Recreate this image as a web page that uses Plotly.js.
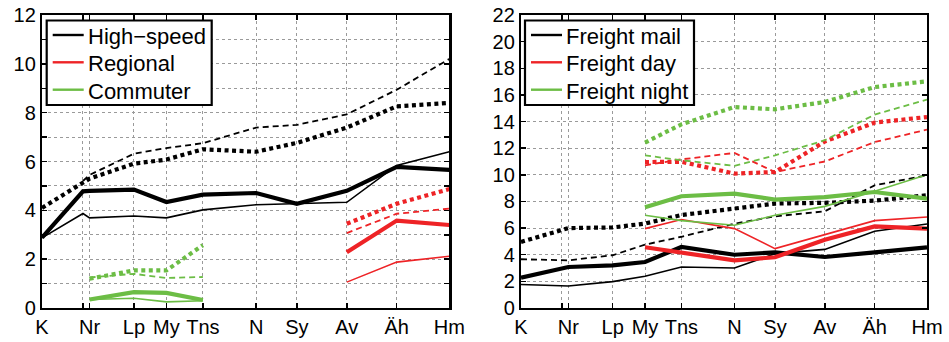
<!DOCTYPE html>
<html>
<head>
<meta charset="utf-8">
<script src="https://cdn.plot.ly/plotly-3.0.1.min.js"></script>
<style>html,body{margin:0;padding:0;background:#fff;}#chart{width:949px;height:342px;}</style>
</head>
<body>
<div id="chart"></div>
<script>
// Stations along the line (x position, label)
const stationLabels = ["K", "", "Nr", "Lp", "My", "Tns", "N", "Sy", "Av", "Äh", "Hm"];
const stationPos    = [0, 41, 47.6, 92, 124.5, 161, 214.3, 255, 305, 355, 407.6];

// Left panel: passenger trains (values per station, null = no data)
const highSpeedThin   = [2.87, 3.87, 3.69, 3.77, 3.69, 4.02, 4.23, 4.27, 4.33, 5.84, 6.4];
const highSpeedThick  = [2.88, 4.78, 4.8, 4.85, 4.34, 4.64, 4.71, 4.27, 4.8, 5.78, 5.66];
const highSpeedDash   = [null, 5.2, 5.45, 6.32, 6.55, 6.75, 7.39, 7.5, 7.93, 8.94, 10.2];
const highSpeedDot    = [4.1, 5.16, 5.3, 5.91, 6.08, 6.5, 6.4, 6.76, 7.39, 8.26, 8.4];

const regionalThin    = [null, null, null, null, null, null, null, null, 1.06, 1.88, 2.12];
const regionalThick   = [null, null, null, null, null, null, null, null, 2.28, 3.58, 3.4];
const regionalDash    = [null, null, null, null, null, null, null, null, 3.07, 3.86, 4.07];
const regionalDot     = [null, null, null, null, null, null, null, null, 3.45, 4.27, 4.87];

const commuterThin    = [null, null, 0.35, 0.4, 0.25, 0.3, null, null, null, null, null];
const commuterThick   = [null, null, 0.35, 0.65, 0.62, 0.33, null, null, null, null, null];
const commuterDash    = [null, null, 1.25, 1.4, 1.23, 1.27, null, null, null, null, null];
const commuterDot     = [null, null, 1.2, 1.54, 1.54, 2.57, null, null, null, null, null];

// Right panel: freight trains
const mailThin        = [1.76, 1.68, 1.65, 1.98, 2.38, 3.08, 3.0, 4.08, 4.4, 5.76, 6.31];
const mailThick       = [2.28, 3.03, 3.08, 3.2, 3.45, 4.58, 4.0, 4.18, 3.83, 4.18, 4.56];
const mailDash        = [3.66, 3.6, 3.58, 3.96, 4.76, 5.35, 6.33, 6.88, 7.26, 9.21, 9.96];
const mailDot         = [4.96, 5.83, 6.0, 6.05, 6.34, 6.98, 7.46, 7.84, 7.9, 8.06, 8.46];

const dayThin         = [null, null, null, null, 5.96, 6.64, 5.96, 4.46, 5.51, 6.56, 6.83];
const dayThick        = [null, null, null, null, 4.56, 4.13, 3.58, 3.81, 5.13, 6.13, 5.96];
const dayDash         = [null, null, null, null, 10.71, 11.16, 11.64, 10.21, 11.0, 12.46, 13.39];
const dayDot          = [null, null, null, null, 10.96, 10.98, 10.09, 10.21, 12.5, 13.92, 14.34];

const nightThin       = [null, null, null, null, 6.96, 6.56, 6.21, 6.96, 7.63, 8.76, 10.01];
const nightThick      = [null, null, null, null, 7.56, 8.39, 8.59, 8.14, 8.33, 8.71, 8.21];
const nightDash       = [null, null, null, null, 11.46, 11.09, 10.68, 11.46, 12.6, 14.52, 15.65];
const nightDot        = [null, null, null, null, 12.42, 13.79, 15.09, 14.92, 15.47, 16.59, 17.02];

const leftTickVals  = [0,1,2,3,4,5,6,7,8,9,10,11,12];
const leftTickText  = ["0","","2","","4","","6","","8","","10","","12"];
const rightTickVals = [0,2,4,6,8,10,12,14,16,18,20,22];

const leftLegendNames  = ["High\u2212speed", "Regional", "Commuter"];
const rightLegendNames = ["Freight mail", "Freight day", "Freight night"];

const BLACK = "#000000", RED = "#ee2326", GREEN = "#6cbd45";
const COLORS = [BLACK, RED, GREEN];
const FONT = "Liberation Sans, Arial, Helvetica, sans-serif";

const styles = {
  thin:  {width: 1.6, dash: "solid"},
  thick: {width: 4.2, dash: "solid"},
  dash:  {width: 1.8, dash: "6px,4px"},
  dot:   {width: 4.2, dash: "4px,3.5px"}
};

const traces = [];
function addGroup(name, color, series, xa, ya) {
  for (const [kind, vals] of series) {
    const xs = [], ys = [];
    vals.forEach((v, i) => { if (v !== null) { xs.push(stationPos[i]); ys.push(v); } });
    traces.push({
      x: xs, y: ys, xaxis: xa, yaxis: ya, mode: "lines", type: "scatter", name: name,
      line: {color: color, width: styles[kind].width, dash: styles[kind].dash},
      showlegend: false, hoverinfo: "skip"
    });
  }
}

addGroup(leftLegendNames[0], BLACK, [["thin", highSpeedThin], ["thick", highSpeedThick], ["dash", highSpeedDash], ["dot", highSpeedDot]], "x", "y");
addGroup(leftLegendNames[1], RED, [["thin", regionalThin], ["thick", regionalThick], ["dash", regionalDash], ["dot", regionalDot]], "x", "y");
addGroup(leftLegendNames[2], GREEN, [["thin", commuterThin], ["thick", commuterThick], ["dash", commuterDash], ["dot", commuterDot]], "x", "y");

addGroup(rightLegendNames[0], BLACK, [["thin", mailThin], ["thick", mailThick], ["dash", mailDash], ["dot", mailDot]], "x2", "y2");
addGroup(rightLegendNames[1], RED, [["thin", dayThin], ["thick", dayThick], ["dash", dayDash], ["dot", dayDot]], "x2", "y2");
addGroup(rightLegendNames[2], GREEN, [["thin", nightThin], ["thick", nightThick], ["dash", nightDash], ["dot", nightDot]], "x2", "y2");

// plot geometry helpers (pixel -> paper)
const W = 949, H = 342, ML = 42, MR = 22, MT = 15, MB = 34;
const PW = W - ML - MR, PH = H - MT - MB;
const px = v => (v - ML) / PW;
const py = v => (H - MB - v) / PH;

function xaxis(domain, anchor) {
  return {
    domain: domain, anchor: anchor, range: [0, 407.6],
    tickmode: "array", tickvals: stationPos, ticktext: stationLabels,
    showline: true, linecolor: "#000", linewidth: 2.2, mirror: "ticks",
    ticks: "inside", ticklen: 5, tickwidth: 1.5, tickcolor: "#000",
    showgrid: true, gridcolor: "#9a9a9a", gridwidth: 1, griddash: "dot",
    zeroline: false, tickfont: {family: FONT, size: 20, color: "#000"},
    fixedrange: true
  };
}
function yaxis(range, vals, text, anchor) {
  return {
    anchor: anchor, range: range, domain: [0, 1],
    tickmode: "array", tickvals: vals, ticktext: text,
    showline: true, linecolor: "#000", linewidth: 2.2, mirror: "ticks",
    ticks: "inside", ticklen: 5, tickwidth: 1.5, tickcolor: "#000",
    showgrid: true, gridcolor: "#9a9a9a", gridwidth: 1, griddash: "dot",
    zeroline: false, tickfont: {family: FONT, size: 20, color: "#000"},
    fixedrange: true
  };
}

// Custom legend boxes (drawn as shapes + text annotations)
const shapes = [], annotations = [];
function drawLegend(boxLeft, boxRight, names) {
  const boxTop = 20.5, boxBottom = 105, rows = [35, 62.3, 89.7];
  shapes.push({type: "rect", xref: "paper", yref: "paper",
    x0: px(boxLeft), x1: px(boxRight), y0: py(boxBottom), y1: py(boxTop),
    line: {color: "#000", width: 2.2}, fillcolor: "#fff", layer: "above"});
  names.forEach((n, i) => {
    shapes.push({type: "line", xref: "paper", yref: "paper",
      x0: px(boxLeft + 6), x1: px(boxLeft + 37), y0: py(rows[i]), y1: py(rows[i]),
      line: {color: COLORS[i], width: 2.4}, layer: "above"});
    annotations.push({xref: "paper", yref: "paper", x: px(boxLeft + 39), y: py(rows[i] + 1.5),
      xanchor: "left", yanchor: "middle", showarrow: false, text: n,
      font: {family: FONT, size: 22, color: "#000"}});
  });
}
drawLegend(46.7, 211.7, leftLegendNames);
drawLegend(525, 694, rightLegendNames);

const layout = {
  width: W, height: H,
  margin: {l: ML, r: MR, t: MT, b: MB},
  paper_bgcolor: "#fff", plot_bgcolor: "#fff",
  showlegend: false,
  xaxis: xaxis([0, px(449.3)], "y"),
  yaxis: yaxis([0, 12], leftTickVals, leftTickText, "x"),
  xaxis2: xaxis([px(521), 1], "y2"),
  yaxis2: yaxis([0, 22], rightTickVals, rightTickVals.map(String), "x2"),
  shapes: shapes, annotations: annotations
};

Plotly.newPlot("chart", traces, layout, {displayModeBar: false, staticPlot: true});
</script>
</body>
</html>
